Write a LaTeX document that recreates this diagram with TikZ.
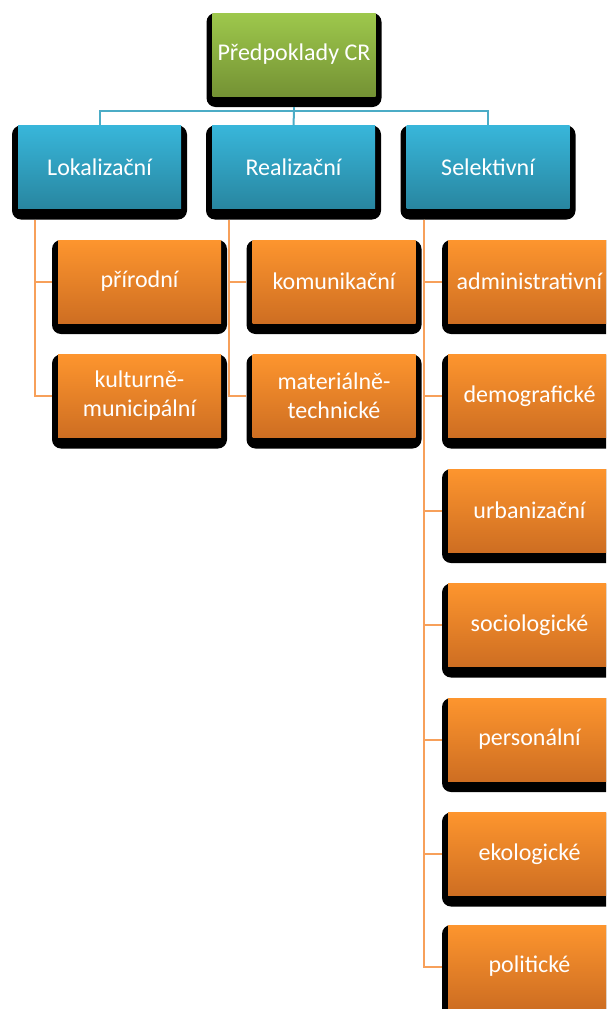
\documentclass[tikz,border=0pt]{standalone}
\usepackage{fontspec}
\setmainfont{Carlito}
\usetikzlibrary{positioning}
\definecolor{CrGreenTop}{RGB}{158,200,76}
\definecolor{CrGreenBot}{RGB}{116,146,52}
\definecolor{CrBlueTop}{RGB}{56,182,218}
\definecolor{CrBlueBot}{RGB}{40,134,160}
\definecolor{CrOrangeTop}{RGB}{253,149,46}
\definecolor{CrOrangeBot}{RGB}{206,110,34}
\definecolor{LinkBlue}{RGB}{75,172,198}
\definecolor{LinkOrange}{RGB}{247,160,90}
\tikzset{
  back/.style={rectangle,fill=black,rounded corners=9pt,minimum width=175pt,minimum height=94pt,inner sep=0pt},
  face/.style={rectangle,anchor=north,minimum width=163pt,minimum height=83pt,inner sep=2pt,
    text=white,align=center,font=\fontsize{24}{29}\selectfont},
  rootface/.style={face,top color=CrGreenTop,bottom color=CrGreenBot},
  midface/.style={face,top color=CrBlueTop,bottom color=CrBlueBot},
  leafface/.style={face,top color=CrOrangeTop,bottom color=CrOrangeBot},
}
\tikzset{bluelink/.style={draw=LinkBlue,line width=2pt},orangelink/.style={draw=LinkOrange,line width=2pt}}

\begin{document}
\begin{tikzpicture}[x=1pt,y=-1pt]
\useasboundingbox (0,0) rectangle (606,1009);
\clip (0,0) rectangle (606,1009);
% black backs
\node[back] (root) at (294,60) {};
\node[back] (lok) at (99.5,172.5) {};
\node[back] (rea) at (293.5,172.5) {};
\node[back] (sel) at (488,172.5) {};
\node[back] (pri) at (139.5,287) {};
\node[back] (kul) at (139.5,401.5) {};
\node[back] (kom) at (334,287) {};
\node[back] (mat) at (334,401.5) {};
\node[back] (adm) at (529.5,287) {};
\node[back] (dem) at (529.5,401.5) {};
\node[back] (urb) at (529.5,516) {};
\node[back] (soc) at (529.5,630.5) {};
\node[back] (per) at (529.5,745) {};
\node[back] (eko) at (529.5,859.5) {};
\node[back] (pol) at (529.5,972) {};
% faces
\node[rootface] (root-f) at (root.north) {Předpoklady CR};
\node[midface] (lok-f) at (lok.north) {Lokalizační};
\node[midface] (rea-f) at (rea.north) {Realizační};
\node[midface] (sel-f) at (sel.north) {Selektivní};
\node[leafface] (pri-f) at (pri.north) {přírodní};
\node[leafface] (kul-f) at (kul.north) {kulturně-\\municipální};
\node[leafface] (kom-f) at (kom.north) {komunikační};
\node[leafface] (mat-f) at (mat.north) {materiálně-\\technické};
\node[leafface] (adm-f) at (adm.north) {administrativní};
\node[leafface] (dem-f) at (dem.north) {demografické};
\node[leafface] (urb-f) at (urb.north) {urbanizační};
\node[leafface] (soc-f) at (soc.north) {sociologické};
\node[leafface] (per-f) at (per.north) {personální};
\node[leafface] (eko-f) at (eko.north) {ekologické};
\node[leafface] (pol-f) at (pol.north) {politické};
% links
\coordinate (hub) at ([yshift=-4pt]root.south);
\draw[bluelink] (root.south) -- (hub) -| (lok.north);
\draw[bluelink] (hub) -| (sel.north);
\draw[bluelink] (hub) -- (rea.north);
\draw[orangelink] ([xshift=-64.5pt]lok.south) |- (pri-f.west -| pri.west);
\draw[orangelink] ([xshift=-64.5pt]lok.south) |- (kul-f.west -| kul.west);
\draw[orangelink] ([xshift=-64.5pt]rea.south) |- (kom-f.west -| kom.west);
\draw[orangelink] ([xshift=-64.5pt]rea.south) |- (mat-f.west -| mat.west);
\draw[orangelink] ([xshift=-64pt]sel.south) |- (adm-f.west -| adm.west);
\draw[orangelink] ([xshift=-64pt]sel.south) |- (dem-f.west -| dem.west);
\draw[orangelink] ([xshift=-64pt]sel.south) |- (urb-f.west -| urb.west);
\draw[orangelink] ([xshift=-64pt]sel.south) |- (soc-f.west -| soc.west);
\draw[orangelink] ([xshift=-64pt]sel.south) |- (per-f.west -| per.west);
\draw[orangelink] ([xshift=-64pt]sel.south) |- (eko-f.west -| eko.west);
\draw[orangelink] ([xshift=-64pt]sel.south) |- (pol-f.west -| pol.west);
\end{tikzpicture}
\end{document}
